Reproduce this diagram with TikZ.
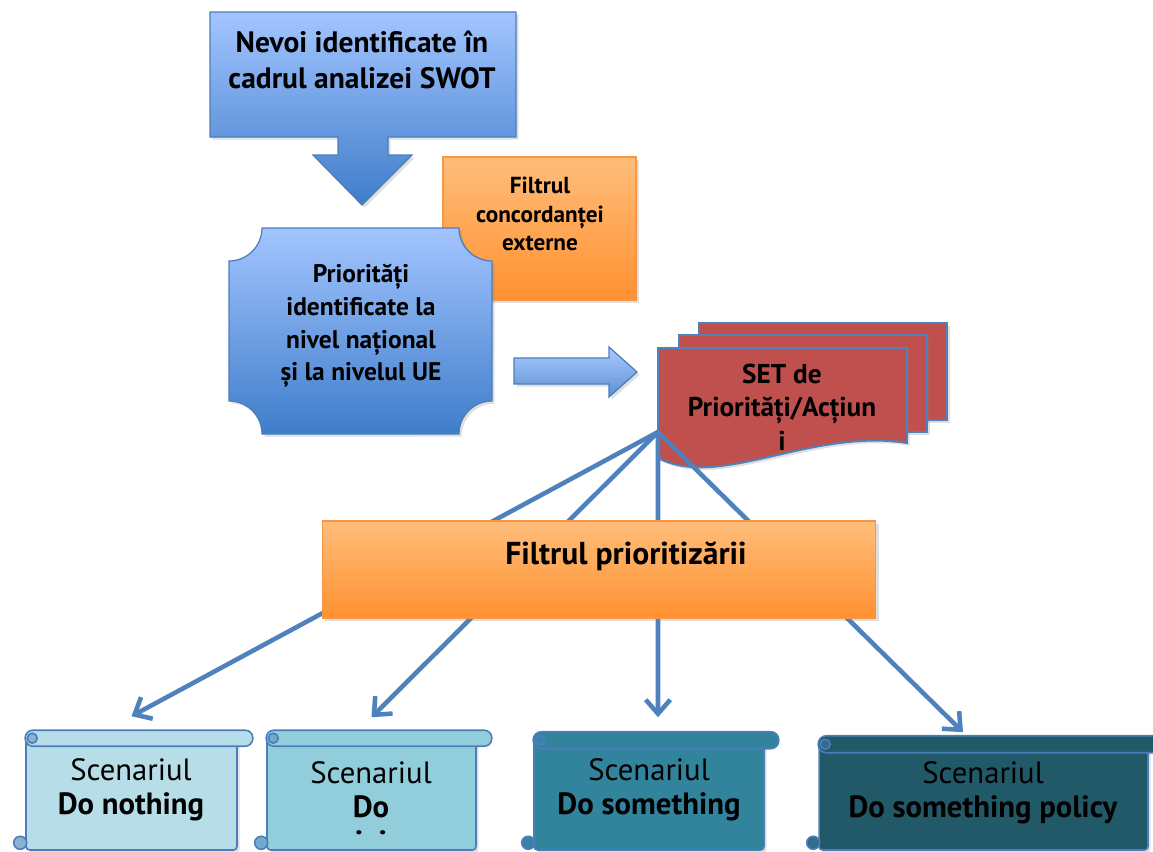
\documentclass[tikz,border=0pt]{standalone}
\usepackage{fontspec}
\setmainfont{PT Sans}
\usetikzlibrary{arrows.meta, calc, shadows}
\definecolor{BlueT}{HTML}{A3C5FF}
\definecolor{BlueB}{HTML}{3F7DCA}
\definecolor{BlueL}{HTML}{4A7EBB}
\definecolor{OrT}  {HTML}{FFBD7B}
\definecolor{OrB}  {HTML}{FF9130}
\definecolor{OrL}  {HTML}{F79646}
\definecolor{DocR} {HTML}{C0504D}
\definecolor{ArrB} {HTML}{4F81BD}
\definecolor{ScA}  {HTML}{B7DDE8}
\definecolor{ScB}  {HTML}{92CDDC}
\definecolor{ScC}  {HTML}{31849B}
\definecolor{ScD}  {HTML}{215968}
\tikzset{
  shd/.style={drop shadow={opacity=0.25, shadow xshift=1.5pt, shadow yshift=-1.5pt}},
  bluebox/.style={draw=BlueL, line width=0.7pt, top color=BlueT, bottom color=BlueB, shd},
  orbox/.style={
    rectangle, draw=OrL, line width=0.6pt,
    top color=OrT, bottom color=OrB, shd,
  },
  docpage/.style={draw=ArrB, line width=1.1pt, fill=DocR, shd},
  scr/.style args={#1}{draw=BlueL, line width=0.9pt, fill=#1},
  curl/.style args={#1}{draw=BlueL, line width=0.9pt, fill=#1!55!BlueL},
  scrbody/.style args={#1}{
    rectangle, rounded corners=2pt, scr=#1, shd,
  },
  % text styles
  txt/.style args={#1/#2}{
    font=\fontsize{#1}{#2}\selectfont\bfseries, align=center,
    inner sep=0pt, text=black,
  },
  scen/.style={
    font=\fontsize{17.5}{19.5}\selectfont, align=center,
    inner sep=0pt, text=black,
  },
  conn/.style={
    -{Straight Barb[length=8pt,width=14pt]},
    line width=2.6pt, color=ArrB,
  },
}

\begin{document}
\begin{tikzpicture}[x=0.02cm,y=-0.02cm]
  \useasboundingbox (0,0) rectangle (1153,852);

  % external filter (behind the priorities plaque)
  \node[orbox, minimum width=3.86cm, minimum height=2.86cm]
        (conc) at (539.5,228.5) {};
  \node[txt=13.2/16] (conctxt) at (540,214)
        {Filtrul\\concordanței\\externe};

  % SWOT needs, callout with down arrow
  \draw[bluebox] (210,12) -- (516,12) -- (516,137) -- (388,137) -- (388,155)
        -- (412,155) -- (362,205) -- (313,155) -- (338,155) -- (338,137)
        -- (210,137) -- cycle;
  \node[txt=16.8/20.5] (swot) at (362,60)
        {Nevoi identificate în\\cadrul analizei SWOT};

  % priorities plaque
  \draw[bluebox] (262,228) -- (459,228)
        arc[start angle=180, end angle=270, radius=0.66cm] -- (492,401)
        arc[start angle=90, end angle=180, radius=0.66cm] -- (262,434)
        arc[start angle=0, end angle=90, radius=0.66cm] -- (229,261)
        arc[start angle=270, end angle=360, radius=0.66cm] -- cycle;
  \node[txt=14.5/18.7] (prior) at (361,326)
        {Priorități\\identificate la\\nivel național\\și la nivelul UE};

  % block arrow to the set
  \draw[bluebox, top color=BlueT!90!white, bottom color=BlueB!85!white]
        (514,358) -- (609,358) -- (609,347) -- (637,372) -- (609,397)
        -- (609,384) -- (514,384) -- cycle;

  % set of priorities / actions (multidocument)
  \draw[docpage] (699,323) rectangle (947,420);
  \draw[docpage] (679,335) rectangle (927,432);
  \draw[docpage] (658,348) -- (907,348) -- (907,443)
        .. controls (810,428) and (720,490) .. (658,458) -- cycle;
  \node[txt=15.5/19] (set) at (782,407)
        {SET de\\Priorități/Acțiun\\i};
  \coordinate (fork) at (658,432);

  % scenarios
  \node[scrbody=ScA, minimum width=4.22cm, minimum height=2.22cm]
        (sc1) at (131.5,794.5) {};
  \draw[scr=ScA, rounded corners=0.15cm] ([yshift=0.16cm]sc1.north west)
        rectangle ([xshift=0.3cm,yshift=-0.16cm]sc1.north east);
  \draw[curl=ScA] ([xshift=0.14cm]sc1.north west) circle[radius=0.1cm];
  \draw[curl=ScA] ([xshift=-0.1cm,yshift=0.16cm]sc1.south west) circle[radius=0.13cm];

  \node[scrbody=ScB, minimum width=4.18cm, minimum height=2.22cm]
        (sc2) at (371.5,794.5) {};
  \draw[scr=ScB, rounded corners=0.15cm] ([yshift=0.16cm]sc2.north west)
        rectangle ([xshift=0.3cm,yshift=-0.16cm]sc2.north east);
  \draw[curl=ScB] ([xshift=0.14cm]sc2.north west) circle[radius=0.1cm];
  \draw[curl=ScB] ([xshift=-0.1cm,yshift=0.16cm]sc2.south west) circle[radius=0.13cm];

  \node[scrbody=ScC, minimum width=4.6cm, minimum height=2.18cm]
        (sc3) at (649,795.5) {};
  \draw[scr=ScC, rounded corners=0.16cm] ([yshift=0.17cm]sc3.north west)
        rectangle ([xshift=0.28cm,yshift=-0.17cm]sc3.north east);
  \draw[curl=ScC] ([xshift=0.14cm]sc3.north west) circle[radius=0.1cm];
  \draw[curl=ScC] ([xshift=-0.1cm,yshift=0.16cm]sc3.south west) circle[radius=0.13cm];

  \node[scrbody=ScD, minimum width=6.58cm, minimum height=2.1cm]
        (sc4) at (983.5,797.5) {};
  \draw[scr=ScD, rounded corners=0.16cm] ([yshift=0.17cm]sc4.north west)
        rectangle ([xshift=0.4cm,yshift=-0.17cm]sc4.north east);
  \draw[curl=ScD] ([xshift=0.14cm]sc4.north west) circle[radius=0.1cm];
  \draw[curl=ScD] ([xshift=-0.1cm,yshift=0.16cm]sc4.south west) circle[radius=0.13cm];

  \node[scen] (t1) at (131,790) {Scenariul\\\textbf{Do nothing}};
  \node[scen] (t2) at (371,807)
        {Scenariul\\\textbf{Do}\\\textbf{˙\hspace{0.3cm}˙}};
  \node[scen] (t3) at (649,790) {Scenariul\\\textbf{Do something}};
  \node[scen] (t4) at (983,793) {Scenariul\\\textbf{Do something policy}};

  % connectors from the set, behind the prioritisation filter
  \draw[conn] (fork) -- ([yshift=0.44cm]sc1.north);
  \draw[conn] (fork) -- ([yshift=0.42cm]sc2.north);
  \draw[conn] (fork) -- ([xshift=0.18cm,yshift=0.46cm]sc3.north);
  \draw[conn] (fork) -- ([xshift=-0.41cm,yshift=0.24cm]sc4.north);

  % prioritisation filter
  \node[orbox, minimum width=11.08cm, minimum height=1.94cm]
        (filt) at (599,569.5) {};
  \node[txt=18/20] (filttxt) at (626,556) {Filtrul prioritizării};

\end{tikzpicture}
\end{document}
